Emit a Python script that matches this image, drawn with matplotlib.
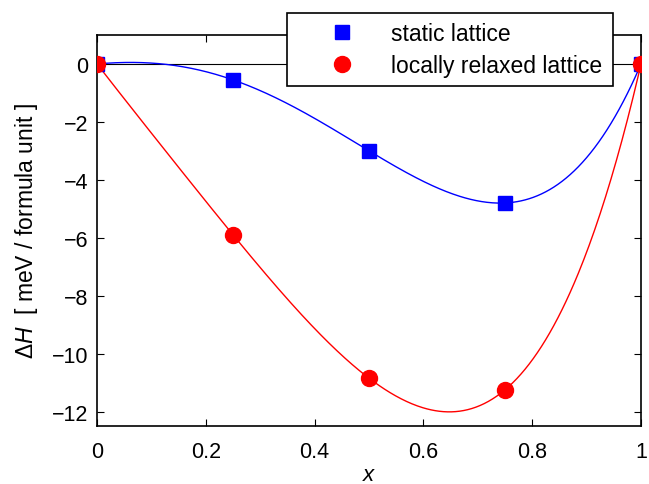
import numpy as np
import matplotlib
matplotlib.use('Agg')
import matplotlib.pyplot as plt

plt.rcParams['font.family'] = ['Liberation Sans', 'DejaVu Sans']
plt.rcParams['mathtext.fontset'] = 'custom'
plt.rcParams['mathtext.it'] = 'Liberation Sans:italic'
plt.rcParams['mathtext.rm'] = 'Liberation Sans'

# composition and mixing enthalpy (meV / formula unit)
x = [0, 0.25, 0.5, 0.75, 1]
dH_static = [0, -0.55, -3.0, -4.8, 0]
dH_relaxed = [0, -5.9, -10.85, -11.25, 0]

# quartic fit through each set of points
xf = np.linspace(0, 1, 400)
fit_static = np.polyval(np.polyfit(x, dH_static, 4), xf)
fit_relaxed = np.polyval(np.polyfit(x, dH_relaxed, 4), xf)

fig = plt.figure(figsize=(6.49, 4.85), dpi=100)
ax = fig.add_axes([0.1495, 0.1196, 0.8382, 0.8062])

ax.axhline(0, color='black', lw=0.8, zorder=1)
ax.plot(xf, fit_static, color='blue', lw=1.0, zorder=2)
ax.plot(xf, fit_relaxed, color='red', lw=1.0, zorder=2)
ax.plot(x, dH_static, 's', color='blue', ms=10, ls='none', label='static lattice', zorder=3)
ax.plot(x, dH_relaxed, 'o', color='red', ms=11.5, ls='none', label='locally relaxed lattice', zorder=4)

ax.set_xlim(0, 1)
ax.set_ylim(-12.5, 1)
ax.set_xticks([0, 0.2, 0.4, 0.6, 0.8, 1])
ax.set_xticklabels(['0', '0.2', '0.4', '0.6', '0.8', '1'])
ax.set_yticks(range(-12, 1, 2))
ax.set_yticklabels(['\u221212', '\u221210', '\u22128', '\u22126', '\u22124', '\u22122', '0'])
ax.tick_params(direction='in', top=True, right=True, length=5, width=0.8, labelsize=15.5)
ax.tick_params(axis='x', pad=11)
ax.tick_params(axis='y', pad=6)
for s in ax.spines.values():
    s.set_linewidth(1.2)

ax.set_xlabel('$x$', fontsize=16, labelpad=1)
ax.set_ylabel(r'$\Delta H$  [ meV / formula unit ]', fontsize=16.5, labelpad=9)

leg = fig.legend(loc='upper left', bbox_to_anchor=(0.442, 0.819, 0.503, 0.153), mode='expand',
                 fontsize=16.5, frameon=True, fancybox=False, edgecolor='black',
                 framealpha=1, borderpad=0.4, handletextpad=0.15, handlelength=4.0,
                 labelspacing=0.4, numpoints=1, borderaxespad=0)
leg.get_frame().set_linewidth(1.2)

fig.savefig('out.png', dpi=100)
